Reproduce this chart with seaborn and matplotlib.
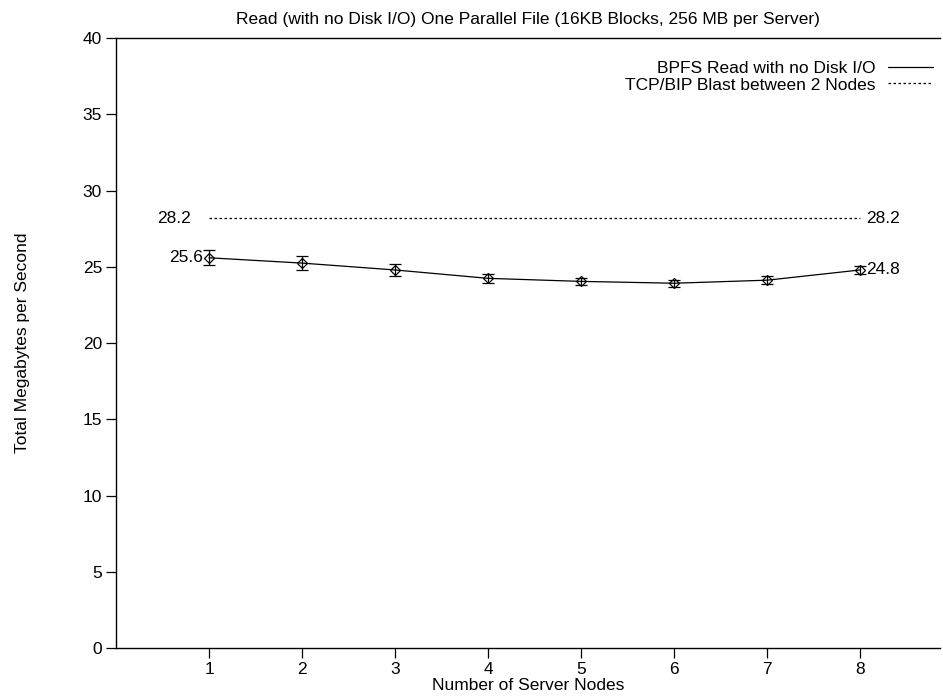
import matplotlib
matplotlib.use("Agg")
import matplotlib.pyplot as plt
import seaborn as sns
import pandas as pd
from matplotlib.lines import Line2D

nodes = [1, 2, 3, 4, 5, 6, 7, 8]
bpfs_read = [25.6, 25.25, 24.8, 24.25, 24.05, 23.93, 24.13, 24.8]
bpfs_err = [0.5, 0.48, 0.42, 0.28, 0.24, 0.24, 0.27, 0.24]
tcp_blast = [28.2] * 8
yticks = [0, 5, 10, 15, 20, 25, 30, 35, 40]

sns.set_theme(style="white")
plt.rcParams['font.family'] = ['Liberation Sans', 'DejaVu Sans']
plt.rcParams['text.color'] = 'black'
plt.rcParams['axes.labelcolor'] = 'black'
FS = 12.5

df = pd.DataFrame({"nodes": nodes, "read": bpfs_read, "err": bpfs_err, "tcp": tcp_blast})

fig = plt.figure(figsize=(9.43, 6.96), dpi=100)
ax = fig.add_axes([0.123, 0.069, 0.874, 0.876])

sns.lineplot(data=df, x="nodes", y="read", ax=ax, color="black", lw=0.9,
             marker="D", markersize=5.5, markerfacecolor="none",
             markeredgecolor="black", markeredgewidth=0.9)
ax.errorbar(df["nodes"], df["read"], yerr=df["err"], fmt="none",
            ecolor="black", elinewidth=0.9, capsize=4, capthick=0.9)
sns.lineplot(data=df, x="nodes", y="tcp", ax=ax, color="black", lw=0.9,
             linestyle=(0, (2, 2)))

ax.text(nodes[0] - 0.06, bpfs_read[0], f"{bpfs_read[0]:.1f}", ha="right", va="center", fontsize=FS, color="black")
ax.text(nodes[-1] + 0.06, bpfs_read[-1], f"{bpfs_read[-1]:.1f}", ha="left", va="center", fontsize=FS, color="black")
ax.text(nodes[0] - 0.2, tcp_blast[0], f"{tcp_blast[0]:.1f}", ha="right", va="center", fontsize=FS, color="black")
ax.text(nodes[-1] + 0.06, tcp_blast[-1], f"{tcp_blast[-1]:.1f}", ha="left", va="center", fontsize=FS, color="black")

ax.set_xlim(0, 8.86)
ax.set_ylim(0, 40)
ax.set_xticks(nodes)
ax.set_yticks(yticks)
ax.tick_params(axis="both", direction="out", length=7, width=0.9, colors="black",
               labelsize=FS, pad=3, bottom=True, left=True)
for s in ["left", "bottom", "top"]:
    ax.spines[s].set_visible(True)
    ax.spines[s].set_color("black")
    ax.spines[s].set_linewidth(1.0)
ax.spines["right"].set_visible(False)

ax.set_xlabel("Number of Server Nodes", fontsize=FS, labelpad=1, color="black")
ax.set_ylabel("Total Megabytes per Second", fontsize=FS, labelpad=38, color="black")
ax.set_title("Read (with no Disk I/O) One Parallel File (16KB Blocks, 256 MB per Server)",
             fontsize=FS, pad=10, color="black")

handles = [Line2D([], [], color="black", lw=0.9),
           Line2D([], [], color="black", lw=0.9, linestyle=(0, (2, 2)))]
leg = ax.legend(handles, ["BPFS Read with no Disk I/O", "TCP/BIP Blast between 2 Nodes"],
                loc="upper right", frameon=False, markerfirst=False, fontsize=FS,
                handlelength=2.6, handletextpad=0.7, labelspacing=0.1,
                borderaxespad=0.0, bbox_to_anchor=(0.9995, 0.975))
for t in leg.get_texts():
    t.set_color("black")

fig.savefig("out.png", dpi=100)
